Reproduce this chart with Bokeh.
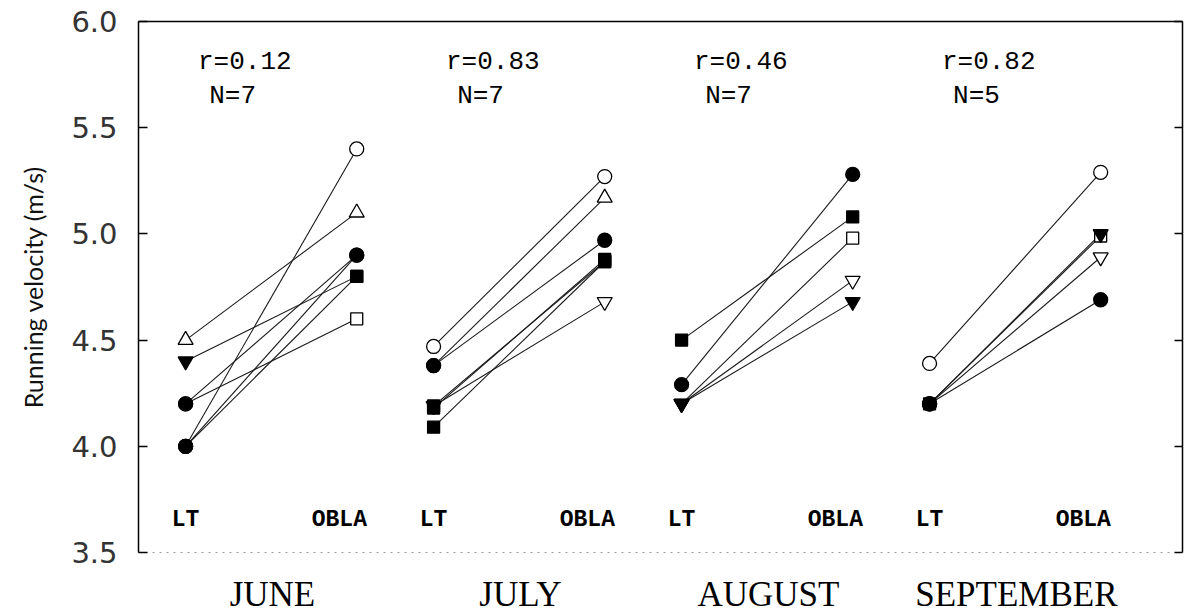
from bokeh.plotting import figure
from bokeh.models import (Range1d, LinearAxis, FixedTicker, ColumnDataSource, PrintfTickFormatter,
                          CustomJSTickFormatter)
from bokeh.core.properties import value
from bokeh.embed import file_html
from bokeh.resources import INLINE

# ---------------- data ----------------
months = ["JUNE", "JULY", "AUGUST", "SEPTEMBER"]
r_values = [0.12, 0.83, 0.46, 0.82]
n_values = [7, 7, 7, 5]
y_ticks = [3.5, 4.0, 4.5, 5.0, 5.5, 6.0]

june_lt = [4.5, 4.4, 4.2, 4.2, 4.0, 4.0, 4.0]
june_obla = [5.1, 4.8, 4.9, 4.6, 5.4, 4.9, 4.8]
june_lt_marker = ["triangle_open", "inverted_triangle", "circle", "circle", "circle", "circle", "circle"]
june_obla_marker = ["triangle_open", "square", "circle", "square_open", "circle_open", "circle", "square"]

july_lt = [4.47, 4.38, 4.38, 4.18, 4.19, 4.09, 4.19]
july_obla = [5.27, 5.17, 4.97, 4.88, 4.68, 4.87, 4.87]
july_lt_marker = ["circle_open", "circle", "circle", "square", "square", "square", "inverted_triangle"]
july_obla_marker = ["circle_open", "triangle_open", "circle", "square", "inverted_triangle_open", "square", "square"]

august_lt = [4.5, 4.29, 4.2, 4.2, 4.2]
august_obla = [5.08, 5.28, 4.98, 4.78, 4.68]
august_lt_marker = ["square", "circle", "inverted_triangle_open", "inverted_triangle_open", "inverted_triangle"]
august_obla_marker = ["square", "circle", "square_open", "inverted_triangle_open", "inverted_triangle"]

september_lt = [4.39, 4.2, 4.2, 4.2, 4.2]
september_obla = [5.29, 4.99, 5.0, 4.89, 4.69]
september_lt_marker = ["circle_open", "square", "circle", "circle", "circle"]
september_obla_marker = ["circle_open", "square_open", "inverted_triangle", "inverted_triangle_open", "circle"]

lt_series = [june_lt, july_lt, august_lt, september_lt]
obla_series = [june_obla, july_obla, august_obla, september_obla]
lt_markers = [june_lt_marker, july_lt_marker, august_lt_marker, september_lt_marker]
obla_markers = [june_obla_marker, july_obla_marker, august_obla_marker, september_obla_marker]

# ---------------- layout constants ----------------
LT_OFF = -0.35
OBLA_OFF = 0.34
SIZES = {"circle": 14, "triangle": 15, "inverted_triangle": 15, "square": 12}

p = figure(width=1184, height=616,
           x_range=Range1d(-0.54, 3.67), y_range=Range1d(3.5, 6.0),
           output_backend="svg", toolbar_location=None,
           min_border_left=138, min_border_right=2, min_border_top=21, min_border_bottom=61)
p.outline_line_color = None
p.grid.visible = False
p.background_fill_color = "white"
p.border_fill_color = "white"

seg = dict(x0=[], y0=[], x1=[], y1=[])
pts = dict(x=[], y=[], marker=[], fill=[], size=[], order=[])
for i in range(len(months)):
    for a, b, ma, mb in zip(lt_series[i], obla_series[i], lt_markers[i], obla_markers[i]):
        seg["x0"].append(i + LT_OFF); seg["y0"].append(a)
        seg["x1"].append(i + OBLA_OFF); seg["y1"].append(b)
        for xx, yy, mk in ((i + LT_OFF, a, ma), (i + OBLA_OFF, b, mb)):
            base = mk.replace("_open", "")
            is_open = mk.endswith("_open")
            pts["x"].append(xx); pts["y"].append(yy)
            pts["marker"].append(base)
            pts["fill"].append("white" if is_open else "black")
            pts["size"].append(SIZES[base])
            pts["order"].append(0 if is_open else 1)

idx = sorted(range(len(pts["x"])), key=lambda k: pts["order"][k])
pts = {k: [v[j] for j in idx] for k, v in pts.items()}

p.segment(x0="x0", y0="y0", x1="x1", y1="y1", source=ColumnDataSource(seg),
          line_color="#1a1a1a", line_width=1.1)
p.scatter(x="x", y="y", marker="marker", size="size", fill_color="fill",
          line_color="black", line_width=1.3, source=ColumnDataSource(pts))

p.text(x=[i - 0.30 for i in range(len(months))], y=[5.81] * len(months),
       text=["r=%.2f" % r for r in r_values],
       text_font=value("Liberation Mono"), text_font_size="26px",
       text_align="left", text_baseline="middle", text_color="black")
p.text(x=[i - 0.255 for i in range(len(months))], y=[5.65] * len(months),
       text=["N=%d" % n for n in n_values],
       text_font=value("Liberation Mono"), text_font_size="26px",
       text_align="left", text_baseline="middle", text_color="black")

p.text(x=[i - 0.35 for i in range(len(months))], y=[3.655] * len(months),
       text=["LT"] * len(months),
       text_font=value("Liberation Mono"), text_font_size="23px", text_font_style="bold",
       text_align="center", text_baseline="middle", text_color="black")
p.text(x=[i + 0.27 for i in range(len(months))], y=[3.655] * len(months),
       text=["OBLA"] * len(months),
       text_font=value("Liberation Mono"), text_font_size="23px", text_font_style="bold",
       text_align="center", text_baseline="middle", text_color="black")

ya = p.yaxis[0]
ya.ticker = FixedTicker(ticks=y_ticks)
ya.formatter = PrintfTickFormatter(format="%.1f")
ya.major_tick_in = 9
ya.major_tick_out = 0
ya.minor_tick_line_color = None
ya.axis_line_color = "black"
ya.axis_line_width = 1.5
ya.major_tick_line_width = 1.3
ya.major_label_standoff = 21
ya.major_label_text_font = "DejaVu Sans"
ya.major_label_text_font_size = "29px"
ya.major_label_text_color = "#333333"
ya.axis_label = "Running velocity (m/s)"
ya.axis_label_text_font = "Lato"
ya.axis_label_text_font_size = "25px"
ya.axis_label_text_font_style = "normal"
ya.axis_label_text_color = "#111111"
ya.axis_label_standoff = 20

xa = p.xaxis[0]
xa.ticker = FixedTicker(ticks=list(range(len(months))))
xa.major_label_overrides = {i: m for i, m in enumerate(months)}
xa.major_tick_line_color = None
xa.major_tick_in = 0
xa.major_tick_out = 0
xa.minor_tick_line_color = None
xa.minor_tick_in = 0
xa.minor_tick_out = 0
xa.axis_line_color = "#9a9a9a"
xa.axis_line_dash = "2 5"
xa.axis_line_width = 1
xa.major_label_standoff = 22
xa.major_label_text_font = "Liberation Serif"
xa.major_label_text_font_size = "35px"
xa.major_label_text_color = "black"

top = LinearAxis(ticker=FixedTicker(ticks=[]), axis_line_color="black", axis_line_width=1.5,
                 major_tick_line_color=None, minor_tick_line_color=None,
                 major_tick_in=0, major_tick_out=0, minor_tick_in=0, minor_tick_out=0)
p.add_layout(top, "above")

right = LinearAxis(ticker=FixedTicker(ticks=y_ticks), axis_line_color="black", axis_line_width=1.5,
                   major_tick_in=8, major_tick_out=0, major_tick_line_width=1.3,
                   minor_tick_line_color=None, minor_tick_in=0, minor_tick_out=0,
                   formatter=CustomJSTickFormatter(code="return ''"))
p.add_layout(right, "right")

open("out.html", "w").write(file_html(p, INLINE))
